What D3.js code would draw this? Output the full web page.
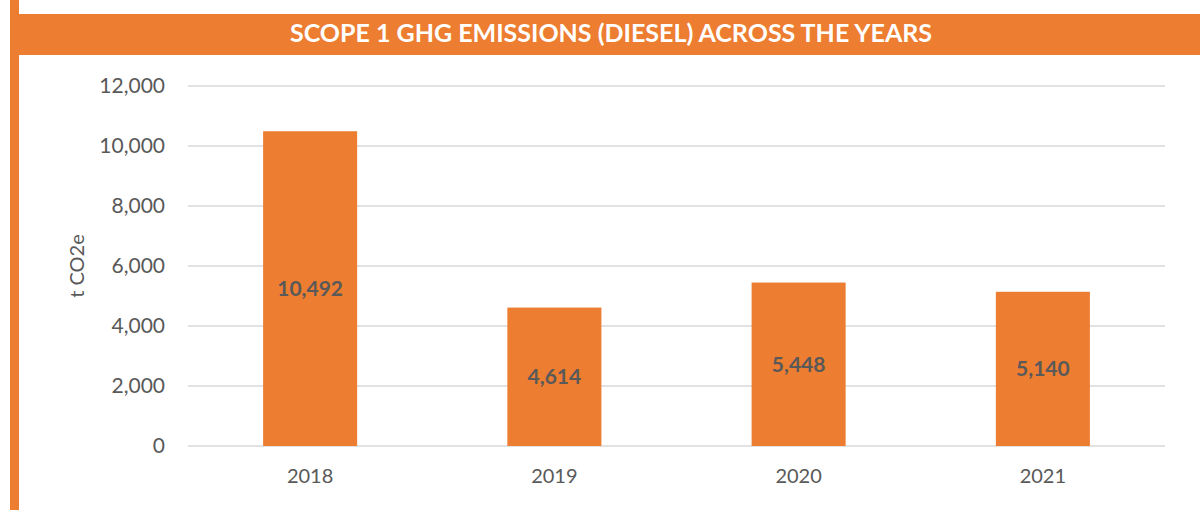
<!DOCTYPE html>
<html><head><meta charset="utf-8">
<script src="https://cdn.jsdelivr.net/npm/d3@7"></script>
<style>body{margin:0;background:#fff;}svg{display:block;}</style>
</head><body>
<script>
const categories = ["2018","2019","2020","2021"];
const values = [10492, 4614, 5448, 5140];
const yTicks = [0,2000,4000,6000,8000,10000,12000];
const title = "SCOPE 1 GHG EMISSIONS (DIESEL) ACROSS THE YEARS";
const yTitle = "t CO2e";

const W = 1200, H = 511;
const orange = "#ED7D31", grey = "#595959";
const svg = d3.select("body").append("svg").attr("width", W).attr("height", H);
svg.append("rect").attr("x",0).attr("y",0).attr("width",W).attr("height",H).attr("fill","#fff");
svg.append("rect").attr("x",10).attr("y",0).attr("width",9).attr("height",510).attr("fill",orange);
svg.append("rect").attr("x",19).attr("y",14).attr("width",W-19).attr("height",41).attr("fill",orange);
svg.append("text").attr("x",611).attr("y",42).attr("text-anchor","middle")
  .attr("font-family","Lato, sans-serif").attr("font-weight","bold").attr("font-size",25)
  .attr("fill","#fff").text(title);

const x = d3.scaleBand().domain(categories).range([188,1165]).paddingInner(0.615).paddingOuter(0.3075);
const y = d3.scaleLinear().domain([0,12000]).range([446,86]);

const yAxis = d3.axisLeft(y).tickValues(yTicks).tickFormat(d3.format(",")).tickSize(0).tickPadding(0);
const gy = svg.append("g").attr("transform","translate(165,0)").call(yAxis);
gy.select(".domain").remove();
gy.selectAll("text").attr("font-family","Lato, sans-serif").attr("font-size",21).attr("fill",grey);

svg.append("g").selectAll("line").data(yTicks).join("line")
  .attr("x1",188).attr("x2",1165).attr("y1",d=>y(d)).attr("y2",d=>y(d))
  .attr("stroke","#d9d9d9").attr("stroke-width",1.5);

svg.append("g").selectAll("rect").data(values).join("rect")
  .attr("x",(d,i)=>x(categories[i])).attr("width",x.bandwidth())
  .attr("y",d=>y(d)).attr("height",d=>y(0)-y(d)).attr("fill",orange);

svg.append("g").selectAll("text").data(values).join("text")
  .attr("x",(d,i)=>x(categories[i])+x.bandwidth()/2)
  .attr("y",d=>(y(d)+y(0))/2).attr("dy","0.35em").attr("text-anchor","middle")
  .attr("font-family","Lato, sans-serif").attr("font-weight","bold").attr("font-size",21)
  .attr("fill",grey).text(d=>d3.format(",")(d));

const xAxis = d3.axisBottom(x).tickSize(0).tickPadding(0);
const gx = svg.append("g").attr("transform","translate(0,469)").call(xAxis);
gx.select(".domain").remove();
gx.selectAll("text").attr("font-family","Lato, sans-serif").attr("font-size",20).attr("fill",grey).attr("dy","0.71em");

svg.append("text").attr("transform","translate(84,266) rotate(-90)").attr("text-anchor","middle")
  .attr("font-family","Lato, sans-serif").attr("font-size",20).attr("fill",grey).text(yTitle);
</script>
</body></html>
